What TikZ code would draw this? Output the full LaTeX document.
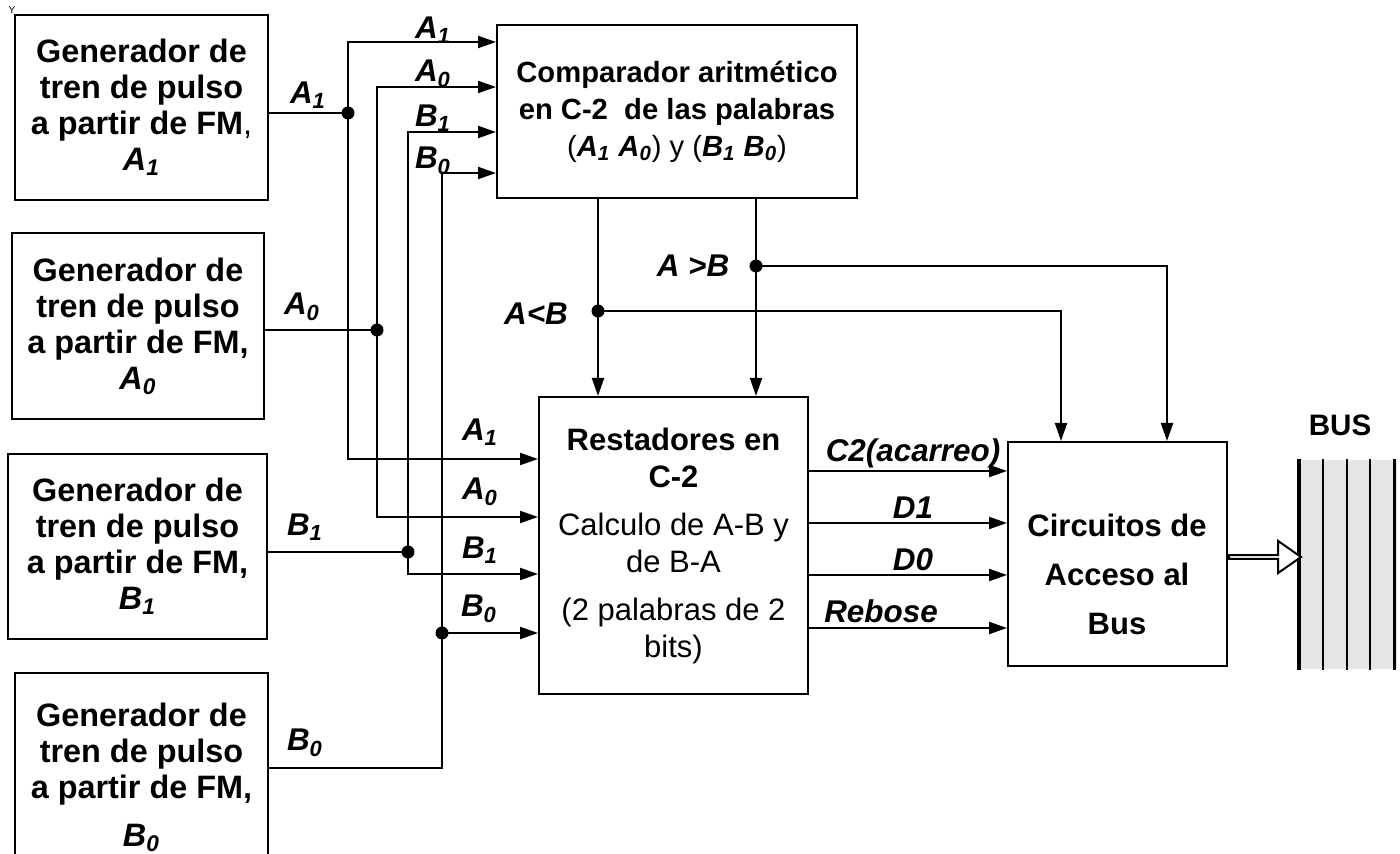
\documentclass[tikz,border=0pt]{standalone}
\usepackage{fontspec}
\setmainfont{Liberation Sans}
\usetikzlibrary{arrows.meta,positioning,calc,shapes.arrows}
\newcommand{\sgn}[2]{\textbf{\textit{#1\textsubscript{#2}}}}

\begin{document}
\begin{tikzpicture}[x=0.5pt,y=-0.5pt,>={Triangle[length=9pt,width=6pt]},line width=1pt,
  genbox/.style={draw,inner sep=0pt,align=center,font=\fontsize{16.2}{18}\selectfont\bfseries},
  blk/.style={draw,inner sep=0pt,align=center},
  sig/.style={inner sep=0pt,font=\fontsize{15.7}{17}\selectfont\bfseries\itshape},
  jdot/.style={circle,fill,inner sep=0pt,minimum size=6.5pt}]
  \useasboundingbox (0,0) rectangle (1400,854);
  \node[inner sep=0pt,font=\fontsize{5}{5}\selectfont] (ymark) at (12,10) {Y};

  % generadores
  \node[genbox,minimum width=126.5pt,minimum height=92.5pt] (genA1) at (141.5,107.5)
    {Generador de\\tren de pulso\\a partir de FM{\mdseries,}\\\textit{A\textsubscript{1}}};
  \node[genbox,minimum width=126pt,minimum height=93pt] (genA0) at (138,326)
    {Generador de\\tren de pulso\\a partir de FM,\\\textit{A\textsubscript{0}}};
  \node[genbox,minimum width=129.5pt,minimum height=92.5pt] (genB1) at (137.5,546.5)
    {Generador de\\tren de pulso\\a partir de FM,\\\textit{B\textsubscript{1}}};
  \node[genbox,minimum width=126.5pt,minimum height=104pt] (genB0) at (141.5,777)
    {Generador de\\tren de pulso\\a partir de FM,\\[6pt]\textit{B\textsubscript{0}}};

  % bloques
  \node[blk,minimum width=180pt,minimum height=86.5pt,font=\fontsize{14.6}{18.5}\selectfont] (comp) at (677,111.5)
    {\textbf{Comparador aritmético}\\\textbf{en C-2\ \ de las palabras}\\(\sgn{A}{1}\ \sgn{A}{0}) y (\sgn{B}{1}\ \sgn{B}{0})};
  \node[blk,minimum width=134.5pt,minimum height=148.5pt,font=\fontsize{15.5}{18.5}\selectfont] (rest) at (673.5,545.5)
    {\textbf{Restadores en}\\\textbf{C-2}\\[5.5pt]Calculo de A-B y\\de B-A\\[5.5pt](2 palabras de 2\\bits)};
  \node[blk,minimum width=109.5pt,minimum height=112pt] (circ) at (1117.5,554) {};
  \node[inner sep=0pt,align=center,font=\fontsize{15.5}{24.5}\selectfont\bfseries] (circtxt) at (1117,574)
    {Circuitos de\\Acceso al\\Bus};

  % bus
  \node[fill=black!10,inner sep=0pt,minimum width=49.5pt,minimum height=104.5pt] (bus) at (1347.5,564.5) {};
  \foreach \bx/\bw in {2/2pt,26/1pt,50/1pt,73/1pt,97/1.5pt}
    \draw[line width=\bw] ($(bus.north west)+(\bx,0)$) -- ($(bus.south west)+(\bx,0)$);
  \node[inner sep=0pt,font=\fontsize{14.8}{17}\selectfont\bfseries] (buslbl) at (1340,425) {BUS};
  \node[single arrow,draw,fill=white,inner sep=0pt,anchor=tail,minimum width=16pt,minimum height=36pt,
    single arrow head extend=4pt,single arrow tip angle=70] (hollow) at ($(circ.east)+(0,3)$) {};

  % entradas al comparador y a los restadores
  \coordinate (jA1) at (348,113);
  \coordinate (jA0) at (377,330);
  \coordinate (jB1) at (408,552);
  \coordinate (jB0) at (442,633);
  \draw (genA1.east |- jA1) -- (jA1);
  \draw (genA0.east |- jA0) -- (jA0);
  \draw (genB1.east |- jB1) -- (jB1);
  \draw ($(genB0.east)+(0,-9)$) -| (jB0);
  \draw[->] (jA1) |- ($(comp.north west)+(0,18)$);
  \draw[->] (jA0) |- ($(comp.north west)+(0,63)$);
  \draw[->] (jB1) |- ($(comp.north west)+(0,108)$);
  \draw[->] (jB0) |- ($(comp.north west)+(0,149)$);
  \draw[->] (jA1) |- ($(rest.north west)+(0,63)$);
  \draw[->] (jA0) |- ($(rest.north west)+(0,121)$);
  \draw[->] (jB1) |- ($(rest.north west)+(0,178)$);
  \draw[->] (jB0) -- (rest.west |- jB0);
  \foreach \j in {jA1,jA0,jB1,jB0}
    \node[jdot] at (\j) {};

  \node[sig] (gA1) at (308,95) {A\textsubscript{1}};
  \node[sig] (gA0) at (302,307) {A\textsubscript{0}};
  \node[sig] (gB1) at (305,527) {B\textsubscript{1}};
  \node[sig] (gB0) at (305,743) {B\textsubscript{0}};
  \node[sig] (cA1) at (433,30) {A\textsubscript{1}};
  \node[sig] (cA0) at (433,74) {A\textsubscript{0}};
  \node[sig] (cB1) at (433,118) {B\textsubscript{1}};
  \node[sig] (cB0) at (433,161) {B\textsubscript{0}};
  \node[sig] (rA1) at (480,432) {A\textsubscript{1}};
  \node[sig] (rA0) at (480,492) {A\textsubscript{0}};
  \node[sig] (rB1) at (480,550) {B\textsubscript{1}};
  \node[sig] (rB0) at (479,609) {B\textsubscript{0}};

  % salidas del comparador
  \coordinate (jLT) at (598,311);
  \coordinate (jGT) at (756,266);
  \draw[->] (comp.south -| jLT) -- (rest.north -| jLT);
  \draw[->] (comp.south -| jGT) -- (rest.north -| jGT);
  \draw[->] (jLT) -| ($(circ.north west)+(54,0)$);
  \draw[->] (jGT) -| ($(circ.north west)+(160,0)$);
  \node[jdot] at (jLT) {};
  \node[jdot] at (jGT) {};
  \node[sig] (lLT) at (536,314) {A<B};
  \node[sig] (lGT) at (693,266) {A >B};

  % salidas de los restadores
  \coordinate (oC2) at ($(rest.north east)+(0,75)$);
  \coordinate (oD1) at ($(rest.north east)+(0,127)$);
  \coordinate (oD0) at ($(rest.north east)+(0,179)$);
  \coordinate (oRb) at ($(rest.north east)+(0,232)$);
  \foreach \o in {oC2,oD1,oD0,oRb}
    \draw[->] (\o) -- (\o -| circ.west);
  \node[sig] (lC2) at (913,453) {C2(acarreo)};
  \node[sig] (lD1) at (913,508) {D1};
  \node[sig] (lD0) at (913,560) {D0};
  \node[sig] (lRb) at (881,611) {Rebose};
\end{tikzpicture}
\end{document}
